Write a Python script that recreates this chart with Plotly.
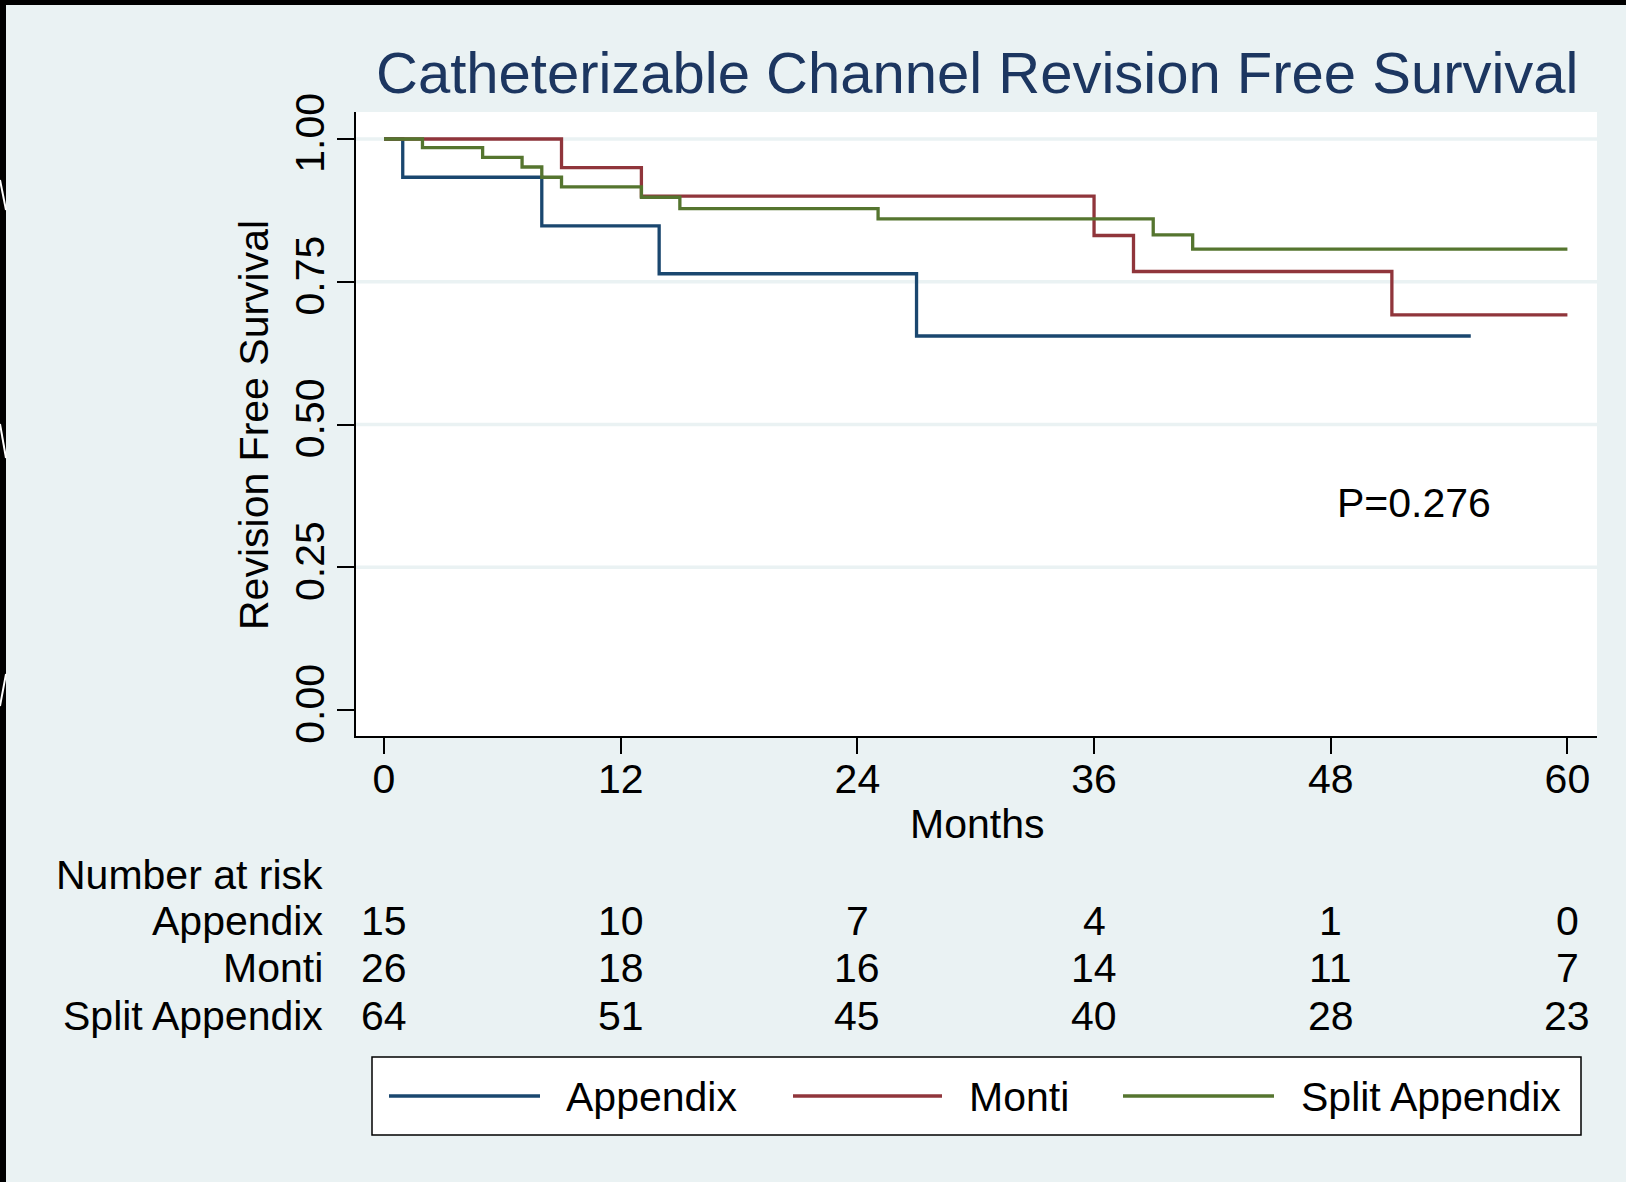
import plotly.graph_objects as go

# ---------------- data ----------------
groups = ["Appendix", "Monti", "Split Appendix"]
colors = ["#1A476F", "#90353B", "#55752F"]

appendix_t = [0, 0.95, 8.0, 13.95, 27.0, 55.1]
appendix_s = [1.0, 0.933, 0.848, 0.764, 0.655, 0.655]

monti_t = [0, 9.0, 13.05, 36.0, 38.0, 51.1, 60]
monti_s = [1.0, 0.95, 0.90, 0.831, 0.768, 0.692, 0.692]

split_t = [0, 1.95, 5.0, 7.0, 8.0, 9.0, 13.05, 15.0, 25.05, 39.0, 41.0, 60]
split_s = [1.0, 0.985, 0.968, 0.951, 0.933, 0.916, 0.898, 0.878, 0.860, 0.832, 0.807, 0.807]

risk_times = [0, 12, 24, 36, 48, 60]
risk_appendix = [15, 10, 7, 4, 1, 0]
risk_monti = [26, 18, 16, 14, 11, 7]
risk_split = [64, 51, 45, 40, 28, 23]

y_ticks = [0.0, 0.25, 0.5, 0.75, 1.0]
y_ticktext = ["0.00", "0.25", "0.50", "0.75", "1.00"]
x_ticks = [0, 12, 24, 36, 48, 60]

title_text = "Catheterizable Channel Revision Free Survival"
x_title = "Months"
y_title = "Revision Free Survival"
p_text = "P=0.276"
p_pos = (52.2, 0.362)

# ---------------- layout geometry ----------------
WIDTH, HEIGHT = 1626, 1182
L, R, T, B = 356, 29, 112, 446
PW = WIDTH - L - R
PH = HEIGHT - T - B


def px_x(px):
    return (px - L) / PW


def px_y(py):
    return (T + PH - py) / PH


FONT = "Liberation Sans, Arial, Helvetica, sans-serif"
BG = "#EAF2F3"
TXT = 41

fig = go.Figure()

series = [(appendix_t, appendix_s), (monti_t, monti_s), (split_t, split_s)]
for name, col, (t, s) in zip(groups, colors, series):
    fig.add_trace(go.Scatter(
        x=t, y=s, mode="lines", name=name,
        line=dict(color=col, width=3.3, shape="hv"),
        showlegend=False, hoverinfo="skip",
    ))

shapes = []
# grid lines (not at 0)
for yv in y_ticks[1:]:
    shapes.append(dict(type="line", xref="paper", yref="y", x0=0, x1=1, y0=yv, y1=yv,
                       line=dict(color=BG, width=3.5), layer="below"))

# black border bands (top and left)
shapes.append(dict(type="rect", xref="paper", yref="paper",
                   x0=px_x(0), x1=px_x(WIDTH), y0=px_y(5), y1=px_y(0),
                   fillcolor="black", line=dict(width=0)))
shapes.append(dict(type="rect", xref="paper", yref="paper",
                   x0=px_x(0), x1=px_x(6), y0=px_y(HEIGHT), y1=px_y(0),
                   fillcolor="black", line=dict(width=0)))
# small white marks on left band
for (ya, yb, xa, xb) in [(180, 210, 0, 6), (424, 458, 0, 6), (706, 674, 0, 6)]:
    shapes.append(dict(type="line", xref="paper", yref="paper",
                       x0=px_x(xa), x1=px_x(xb), y0=px_y(ya), y1=px_y(yb),
                       line=dict(color="white", width=2)))

# manual legend
shapes.append(dict(type="rect", xref="paper", yref="paper",
                   x0=px_x(372), x1=px_x(1581), y0=px_y(1135), y1=px_y(1057),
                   fillcolor="white", line=dict(color="black", width=1.5)))
leg_lines = [(389, 540, 564), (793, 942, 967), (1123, 1274, 1299)]
annotations = []
for (xa, xb, xt), name, col in zip(leg_lines, groups, colors):
    shapes.append(dict(type="line", xref="paper", yref="paper",
                       x0=px_x(xa), x1=px_x(xb), y0=px_y(1096), y1=px_y(1096),
                       line=dict(color=col, width=3.3)))
    annotations.append(dict(xref="paper", yref="paper", x=px_x(xt), y=px_y(1097),
                            text=name, showarrow=False, xanchor="left", yanchor="middle",
                            font=dict(family=FONT, size=TXT, color="black")))

# title
annotations.append(dict(xref="paper", yref="paper", x=0.5, y=px_y(72),
                        text=title_text, showarrow=False, xanchor="center", yanchor="middle",
                        font=dict(family=FONT, size=58, color="#1C3660")))

# axis titles
annotations.append(dict(xref="paper", yref="paper", x=0.5, y=px_y(824),
                        text=x_title, showarrow=False, xanchor="center", yanchor="middle",
                        font=dict(family=FONT, size=TXT, color="black")))
annotations.append(dict(xref="paper", yref="paper", x=px_x(254), y=px_y(425),
                        text=y_title, showarrow=False, xanchor="center", yanchor="middle",
                        textangle=-90, font=dict(family=FONT, size=TXT, color="black")))

# P value
annotations.append(dict(xref="x", yref="y", x=p_pos[0], y=p_pos[1], text=p_text,
                        showarrow=False, xanchor="center", yanchor="middle",
                        font=dict(family=FONT, size=TXT, color="black")))

# number at risk table
annotations.append(dict(xref="paper", yref="paper", x=px_x(325), y=px_y(875),
                        text="Number at risk", showarrow=False, xanchor="right", yanchor="middle",
                        font=dict(family=FONT, size=TXT, color="black")))
row_y = [921, 968, 1016]
for name, vals, ry in zip(groups, [risk_appendix, risk_monti, risk_split], row_y):
    annotations.append(dict(xref="paper", yref="paper", x=px_x(325), y=px_y(ry),
                            text=name, showarrow=False, xanchor="right", yanchor="middle",
                            font=dict(family=FONT, size=TXT, color="black")))
    for tv, v in zip(risk_times, vals):
        annotations.append(dict(xref="x", yref="paper", x=tv, y=px_y(ry),
                                text=str(v), showarrow=False, xanchor="center", yanchor="middle",
                                font=dict(family=FONT, size=TXT, color="black")))

fig.update_layout(
    width=WIDTH, height=HEIGHT,
    margin=dict(l=L, r=R, t=T, b=B, pad=0),
    paper_bgcolor=BG, plot_bgcolor="white",
    font=dict(family=FONT, size=TXT, color="black"),
    shapes=shapes, annotations=annotations,
    showlegend=False,
    xaxis=dict(range=[-1.42, 61.5], tickvals=x_ticks, ticks="outside", ticklen=16,
               tickwidth=2, tickcolor="black", showline=True, linecolor="black", linewidth=2,
               showgrid=False, zeroline=False, tickfont=dict(size=41, color="black"),
               ticklabelstandoff=-10),
    yaxis=dict(range=[-0.0455, 1.0473], tickvals=y_ticks, ticktext=y_ticktext,
               tickangle=-90, ticks="outside", ticklen=17, tickwidth=2, tickcolor="black",
               showline=True, linecolor="black", linewidth=2, showgrid=False, zeroline=False,
               tickfont=dict(size=41, color="black"), ticklabelstandoff=-3),
)

fig.write_html(
    "out.html",
    config={"displayModeBar": False},
    post_script="document.body.style.margin='0';document.body.style.overflow='hidden';",
)
